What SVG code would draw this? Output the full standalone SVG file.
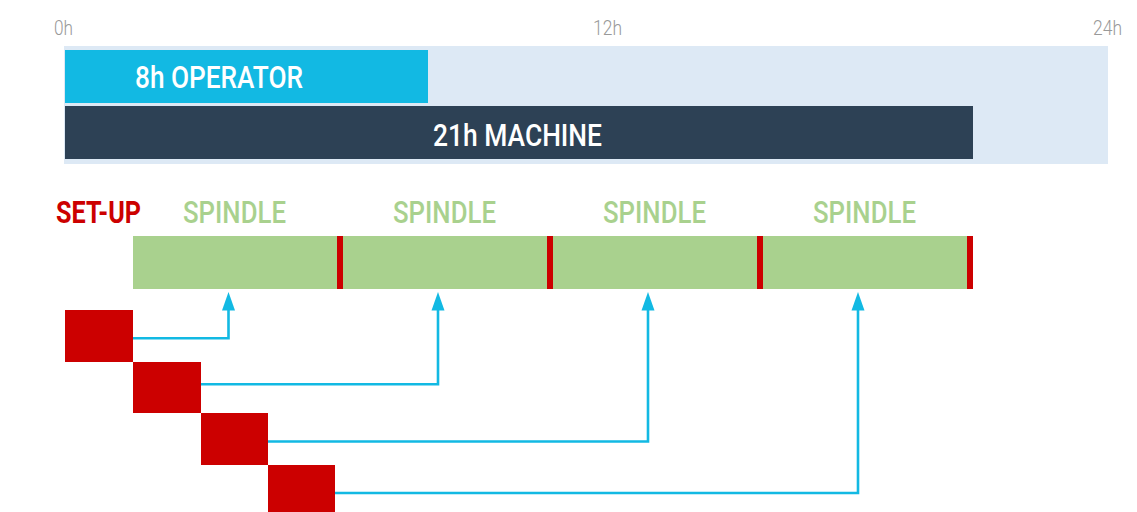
<svg xmlns="http://www.w3.org/2000/svg" width="1137" height="512" viewBox="0 0 1137 512">
<defs>
<style>
.ax{font-family:Roboto,"Liberation Sans",sans-serif;font-size:20px;fill:#999999;font-weight:300}
.lbl{font-family:Roboto,"Liberation Sans",sans-serif;font-size:32px;font-weight:500}
.w{fill:#ffffff}
.sp{fill:#a9d18e}
.su{fill:#cc0000;font-weight:700}
.red{fill:#cc0000}
.con{fill:none;stroke:#12b9e3;stroke-width:2.6}
</style>
<marker id="ah" markerUnits="userSpaceOnUse" markerWidth="19" markerHeight="14" refX="1" refY="7" orient="auto" viewBox="0 0 19 14">
<path d="M0,0.5 L18.5,7 L0,13.5 Z" fill="#12b9e3"/>
</marker>
</defs>
<rect width="1137" height="512" fill="#ffffff"/>
<g id="axis">
<text class="ax" x="54" y="34.5" textLength="19" lengthAdjust="spacingAndGlyphs">0h</text>
<text class="ax" x="593" y="34.5" textLength="29" lengthAdjust="spacingAndGlyphs">12h</text>
<text class="ax" x="1093" y="34.5" textLength="29" lengthAdjust="spacingAndGlyphs">24h</text>
</g>
<g id="timeline">
<rect x="64" y="46" width="1044" height="118" fill="#dde9f5"/>
</g>
<g id="operator">
<rect x="65" y="50" width="363" height="53" fill="#12b9e3"/>
<text class="lbl w" x="135" y="88" textLength="168" lengthAdjust="spacingAndGlyphs">8h OPERATOR</text>
</g>
<g id="machine">
<rect x="65" y="106" width="908" height="53" fill="#2d4155"/>
<text class="lbl w" x="433" y="146" textLength="169" lengthAdjust="spacingAndGlyphs">21h MACHINE</text>
</g>
<g id="setup-label">
<text class="lbl su" x="56" y="222.5" textLength="85" lengthAdjust="spacingAndGlyphs">SET-UP</text>
</g>
<g id="spindle-bar">
<rect x="133" y="236" width="840" height="53" fill="#a9d18e"/>
<rect class="red" x="337" y="236" width="6" height="53"/>
<rect class="red" x="547" y="236" width="6" height="53"/>
<rect class="red" x="757" y="236" width="6" height="53"/>
<rect class="red" x="967" y="236" width="6" height="53"/>
</g>
<g id="spindle1"><text class="lbl sp" x="183" y="222.5" textLength="103" lengthAdjust="spacingAndGlyphs">SPINDLE</text></g>
<g id="spindle2"><text class="lbl sp" x="393" y="222.5" textLength="103" lengthAdjust="spacingAndGlyphs">SPINDLE</text></g>
<g id="spindle3"><text class="lbl sp" x="603" y="222.5" textLength="103" lengthAdjust="spacingAndGlyphs">SPINDLE</text></g>
<g id="spindle4"><text class="lbl sp" x="813" y="222.5" textLength="103" lengthAdjust="spacingAndGlyphs">SPINDLE</text></g>
<g id="setup1"><rect class="red" x="65" y="310" width="68" height="52"/></g>
<g id="setup2"><rect class="red" x="133" y="362" width="68" height="51"/></g>
<g id="setup3"><rect class="red" x="201" y="413" width="67" height="52"/></g>
<g id="setup4"><rect class="red" x="268" y="465" width="67" height="52"/></g>
<g id="connectors">
<path class="con" d="M133,338.3 H228.5 V309.5" marker-end="url(#ah)"/>
<path class="con" d="M201,384.3 H438 V309.5" marker-end="url(#ah)"/>
<path class="con" d="M268,441.5 H648 V309.5" marker-end="url(#ah)"/>
<path class="con" d="M335,493 H858 V309.5" marker-end="url(#ah)"/>
</g>
</svg>
